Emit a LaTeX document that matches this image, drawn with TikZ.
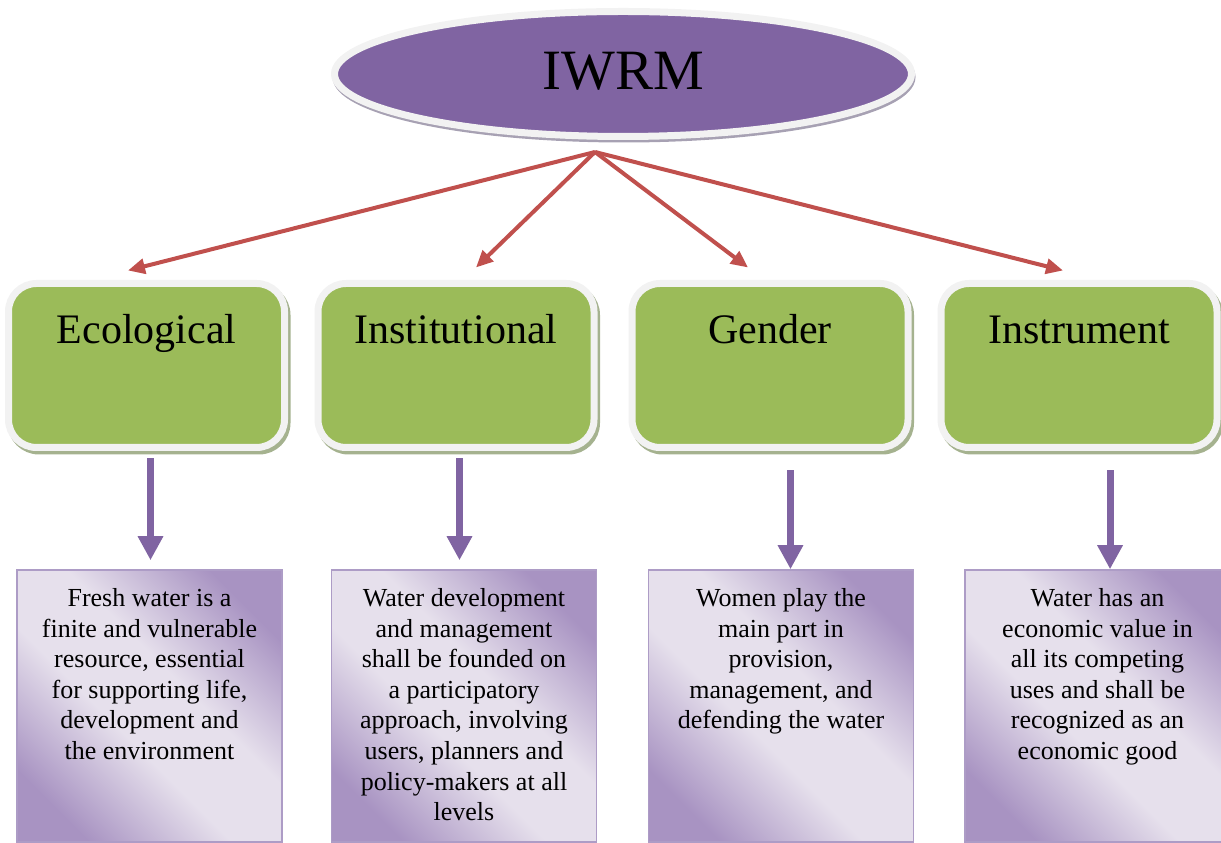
\documentclass[tikz,border=0pt]{standalone}
\usepackage{fontspec}
\setmainfont{Liberation Serif}
\usetikzlibrary{shapes.geometric,arrows.meta,shadows}
\definecolor{epurple}{HTML}{8064A2}
\definecolor{ring}{HTML}{F2F2F2}
\definecolor{eshadow}{HTML}{A7A1B3}
\definecolor{ggreen}{HTML}{9BBB59}
\definecolor{gshadow}{HTML}{A5B28F}
\definecolor{rred}{HTML}{C0504D}
\definecolor{pborder}{HTML}{AD9CC6}
\definecolor{pdark}{HTML}{A893C2}
\definecolor{plight}{HTML}{E6E0EC}
\pgfdeclareverticalshading{pshade}{100bp}{color(0bp)=(pdark); color(24bp)=(pdark); color(43bp)=(plight); color(57bp)=(plight); color(76bp)=(pdark); color(100bp)=(pdark)}
\begin{document}
\begin{tikzpicture}[x=1pt,y=1pt,
  hubell/.style={ellipse, fill=epurple, draw=ring, line width=7pt,
    minimum width=577pt, minimum height=125pt, inner sep=0pt,
    font=\fontsize{57}{60}\selectfont, text depth=6pt,
    general shadow={shadow xshift=1pt, shadow yshift=-3pt, fill=eshadow, draw=eshadow, line width=6pt, opacity=1}},
  gbox/.style={rectangle, rounded corners=28pt, fill=ggreen, draw=ring, line width=7pt,
    minimum width=276pt, inner sep=0pt,
    font=\fontsize{42}{48}\selectfont, text height=60.5pt, text depth=103.5pt,
    general shadow={shadow xshift=2.5pt, shadow yshift=-3.5pt, fill=gshadow, draw=gshadow, line width=7pt, opacity=1}},
  pbox/.style={rectangle, draw=pborder, line width=1.5pt, inner sep=0pt,
    minimum width=265pt, minimum height=272pt,
    shading=pshade, shading angle=-45},
  desc/.style={align=center, inner sep=0pt, anchor=north, font=\fontsize{26}{30.6}\selectfont},
  rarrow/.style={draw=rred, line width=4pt, -{Triangle[length=17pt,width=15pt]}},
  parrow/.style={draw=epurple, line width=7pt, -{Triangle[length=24pt,width=24pt]}}
]
\useasboundingbox (0,0) rectangle (1221,843);
% green boxes
\node[gbox] (g1) at (146.5,477.5) {Ecological};
\node[gbox] (g2) at (456,477.5) {Institutional};
\node[gbox] (g3) at (770,477.5) {Gender};
\node[gbox] (g4) at (1079,477.5) {Instrument};
% purple boxes
\node[pbox] (p1) at (149.5,137) {};
\node[pbox] (p2) at (464,137) {};
\node[pbox] (p3) at (781,137) {};
\node[pbox] (p4) at (1097.5,137) {};
\node[desc] (d1) at ([yshift=-19pt]p1.north) {Fresh water is a\\finite and vulnerable\\resource, essential\\for supporting life,\\development and\\the environment};
\node[desc] (d2) at ([yshift=-19pt]p2.north) {Water development\\and management\\shall be founded on\\a participatory\\approach, involving\\users, planners and\\policy-makers at all\\levels};
\node[desc] (d3) at ([yshift=-19pt]p3.north) {Women play the\\main part in\\provision,\\management, and\\defending the water};
\node[desc] (d4) at ([yshift=-19pt]p4.north) {Water has an\\economic value in\\all its competing\\uses and shall be\\recognized as an\\economic good};
% red arrows
\coordinate (hub) at (595,691);
\coordinate (r1) at ([shift={(-18.5,9.5)}]g1.north);
\coordinate (r2) at ([shift={(20,12.5)}]g2.north);
\coordinate (r3) at ([shift={(-22,12.5)}]g3.north);
\coordinate (r4) at ([shift={(-16,9.5)}]g4.north);
\draw[rarrow] (hub) -- (r1);
\draw[rarrow] (hub) -- (r2);
\draw[rarrow] (hub) -- (r3);
\draw[rarrow] (hub) -- (r4);
% purple arrows
\coordinate (x1) at (150.5,0);
\coordinate (x2) at (459.5,0);
\coordinate (x3) at (790.5,0);
\coordinate (x4) at (1110,0);
\draw[parrow, shorten <=7.5pt, shorten >=9pt] (g1.south -| x1) -- (p1.north -| x1);
\draw[parrow, shorten <=7.5pt, shorten >=9pt] (g2.south -| x2) -- (p2.north -| x2);
\draw[parrow, shorten <=19.5pt] (g3.south -| x3) -- (p3.north -| x3);
\draw[parrow, shorten <=19.5pt] (g4.south -| x4) -- (p4.north -| x4);
% top ellipse
\node[hubell] (iwrm) at (623,769) {IWRM};
\end{tikzpicture}
\end{document}
